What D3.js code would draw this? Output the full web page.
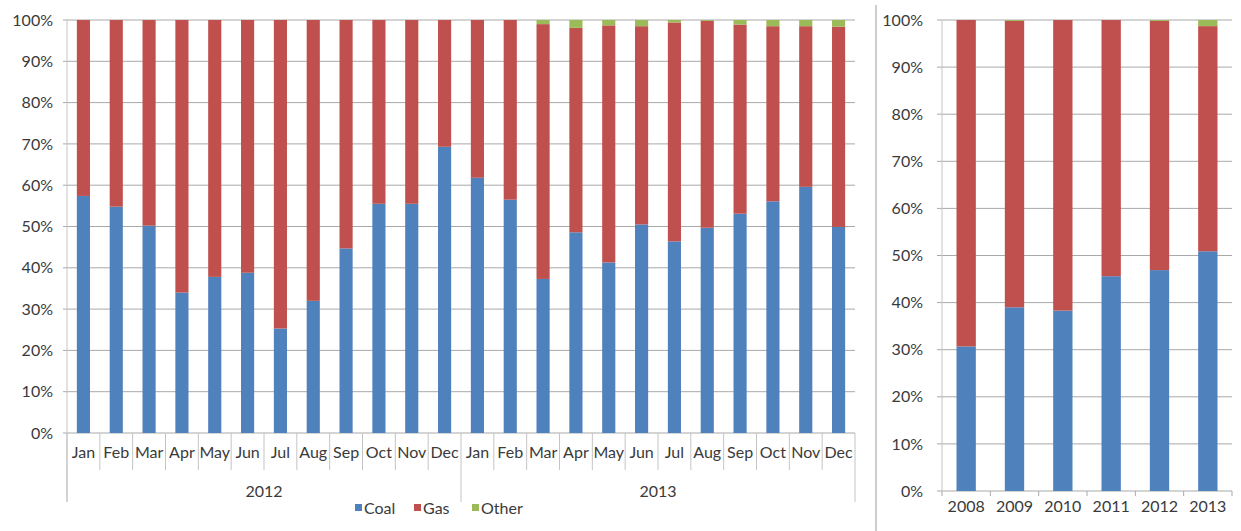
<!DOCTYPE html>
<html>
<head>
<meta charset="utf-8">
<script src="https://cdn.jsdelivr.net/npm/d3@7"></script>
<style>
  html, body { margin: 0; padding: 0; background: #fff; }
  svg { display: block; }
  text { font-family: Lato, "Open Sans", sans-serif; fill: #3a3a3a; }
</style>
</head>
<body>
<svg id="chart" width="1241" height="531"></svg>
<script>
// Monthly generation mix, share of total (%)
const months = ["Jan","Feb","Mar","Apr","May","Jun","Jul","Aug","Sep","Oct","Nov","Dec"];
const years = ["2012", "2013"];
const coal2012  = [57.4, 54.8, 50.2, 34.0, 37.8, 38.8, 25.3, 32.0, 44.7, 55.5, 55.5, 69.3];
const gas2012   = [42.6, 45.2, 49.8, 66.0, 62.2, 61.2, 74.7, 68.0, 55.3, 44.5, 44.5, 30.7];
const other2012 = [0, 0, 0, 0, 0, 0, 0, 0, 0, 0, 0, 0];
const coal2013  = [61.8, 56.5, 37.3, 48.6, 41.3, 50.5, 46.4, 49.7, 53.1, 56.1, 59.6, 49.9];
const gas2013   = [38.2, 43.5, 61.7, 49.5, 57.4, 48.0, 53.0, 50.1, 45.8, 42.4, 38.9, 48.5];
const other2013 = [0, 0, 1.0, 1.9, 1.3, 1.5, 0.6, 0.2, 1.1, 1.5, 1.5, 1.6];

// Annual generation mix (%)
const annualYears = ["2008", "2009", "2010", "2011", "2012", "2013"];
const coalAnnual  = [30.7, 39.0, 38.3, 45.6, 46.9, 50.9];
const gasAnnual   = [69.3, 60.8, 61.7, 54.4, 52.9, 47.8];
const otherAnnual = [0, 0.2, 0, 0, 0.2, 1.3];

const yTicks = [0, 10, 20, 30, 40, 50, 60, 70, 80, 90, 100];
const seriesNames = ["Coal", "Gas", "Other"];
const colors = { Coal: "#4F81BD", Gas: "#C0504D", Other: "#9BBB59" };

const svg = d3.select("#chart");
const gridColor = "#a9a9a9";
const axisColor = "#c4c4c4";

// ---------- monthly rows ----------
const monthly = [];
years.forEach((yr, yi) => {
  const c = yi === 0 ? coal2012 : coal2013;
  const g = yi === 0 ? gas2012 : gas2013;
  const o = yi === 0 ? other2012 : other2013;
  months.forEach((m, i) => {
    monthly.push({ key: yr + "-" + m, year: yr, month: m, Coal: c[i], Gas: g[i], Other: o[i] });
  });
});

const stack = d3.stack().keys(seriesNames);

// ---------- left panel ----------
const L = { left: 67, right: 855, top: 20, bottom: 433 };
const xL = d3.scaleBand().domain(monthly.map(d => d.key))
  .range([L.left, L.right]).paddingInner(0.6).paddingOuter(0.3);
const yL = d3.scaleLinear().domain([0, 100]).range([L.bottom, L.top]);

const left = svg.append("g");

left.append("g").selectAll("line").data(yTicks).join("line")
  .attr("x1", L.left - 4).attr("x2", L.right)
  .attr("y1", d => yL(d)).attr("y2", d => yL(d))
  .attr("stroke", gridColor).attr("stroke-width", 1);

left.append("line")
  .attr("x1", L.left).attr("x2", L.left)
  .attr("y1", L.top).attr("y2", 502)
  .attr("stroke", axisColor);

const yAxisL = left.append("g")
  .attr("transform", `translate(${L.left},0)`)
  .call(d3.axisLeft(yL).tickValues(yTicks).tickFormat(d => d + "%").tickSize(0).tickPadding(14));
yAxisL.select(".domain").remove();
yAxisL.selectAll("text").style("font-size", "16px").style("font-family", "Lato, sans-serif").attr("fill", "#3a3a3a");

left.append("g").selectAll("g").data(stack(monthly)).join("g")
  .attr("fill", s => colors[s.key])
  .selectAll("rect").data(s => s).join("rect")
  .attr("x", d => xL(d.data.key))
  .attr("width", xL.bandwidth())
  .attr("y", d => yL(d[1]))
  .attr("height", d => Math.max(0, yL(d[0]) - yL(d[1])));

// category separators (month level and year level)
const stepL = xL.step();
const sepIdx = d3.range(monthly.length + 1);
left.append("g").selectAll("line").data(sepIdx).join("line")
  .attr("x1", i => L.left + i * stepL).attr("x2", i => L.left + i * stepL)
  .attr("y1", L.bottom)
  .attr("y2", i => (i % 12 === 0 ? 502 : 470))
  .attr("stroke", axisColor);

left.append("g").selectAll("text").data(monthly).join("text")
  .attr("x", d => xL(d.key) + xL.bandwidth() / 2)
  .attr("y", 458)
  .attr("text-anchor", "middle")
  .style("font-size", "16px")
  .text(d => d.month);

left.append("g").selectAll("text").data(years).join("text")
  .attr("x", (yr, i) => L.left + (i * 12 + 6) * stepL)
  .attr("y", 497)
  .attr("text-anchor", "middle")
  .style("font-size", "16px")
  .text(d => d);

// legend
const legendX = [355, 414, 472];
const legend = left.append("g").selectAll("g").data(seriesNames).join("g")
  .attr("transform", (d, i) => `translate(${legendX[i]},508)`);
legend.append("rect").attr("x", 0).attr("y", -4).attr("width", 7).attr("height", 7)
  .attr("fill", d => colors[d]);
legend.append("text").attr("x", 9).attr("y", 6).style("font-size", "16px").text(d => d);

// panel divider
svg.append("line").attr("x1", 876).attr("x2", 876).attr("y1", 5).attr("y2", 531)
  .attr("stroke", "#9a9a9a");

// ---------- right panel ----------
const annual = annualYears.map((yr, i) => ({ key: yr, Coal: coalAnnual[i], Gas: gasAnnual[i], Other: otherAnnual[i] }));
const R = { left: 942, right: 1232, top: 20, bottom: 491 };
const xR = d3.scaleBand().domain(annualYears).range([R.left, R.right]).paddingInner(0.6).paddingOuter(0.3);
const yR = d3.scaleLinear().domain([0, 100]).range([R.bottom, R.top]);

const right = svg.append("g");

right.append("g").selectAll("line").data(yTicks).join("line")
  .attr("x1", R.left - 5).attr("x2", R.right)
  .attr("y1", d => yR(d)).attr("y2", d => yR(d))
  .attr("stroke", gridColor);

right.append("line").attr("x1", R.left).attr("x2", R.left)
  .attr("y1", R.top).attr("y2", R.bottom).attr("stroke", axisColor);

const yAxisR = right.append("g")
  .attr("transform", `translate(${R.left},0)`)
  .call(d3.axisLeft(yR).tickValues(yTicks).tickFormat(d => d + "%").tickSize(0).tickPadding(19));
yAxisR.select(".domain").remove();
yAxisR.selectAll("text").style("font-size", "16px").style("font-family", "Lato, sans-serif").attr("fill", "#3a3a3a");

right.append("g").selectAll("g").data(stack(annual)).join("g")
  .attr("fill", s => colors[s.key])
  .selectAll("rect").data(s => s).join("rect")
  .attr("x", d => xR(d.data.key))
  .attr("width", xR.bandwidth())
  .attr("y", d => yR(d[1]))
  .attr("height", d => Math.max(0, yR(d[0]) - yR(d[1])));

const stepR = xR.step();
right.append("g").selectAll("line").data(d3.range(annualYears.length + 1)).join("line")
  .attr("x1", i => R.left + i * stepR).attr("x2", i => R.left + i * stepR)
  .attr("y1", R.bottom).attr("y2", R.bottom + 5)
  .attr("stroke", gridColor);

const xAxisR = right.append("g")
  .attr("transform", `translate(0,${R.bottom})`)
  .call(d3.axisBottom(xR).tickSize(0).tickPadding(10));
xAxisR.select(".domain").remove();
xAxisR.selectAll("text").style("font-size", "16px").style("font-family", "Lato, sans-serif").attr("fill", "#3a3a3a");
</script>
</body>
</html>
